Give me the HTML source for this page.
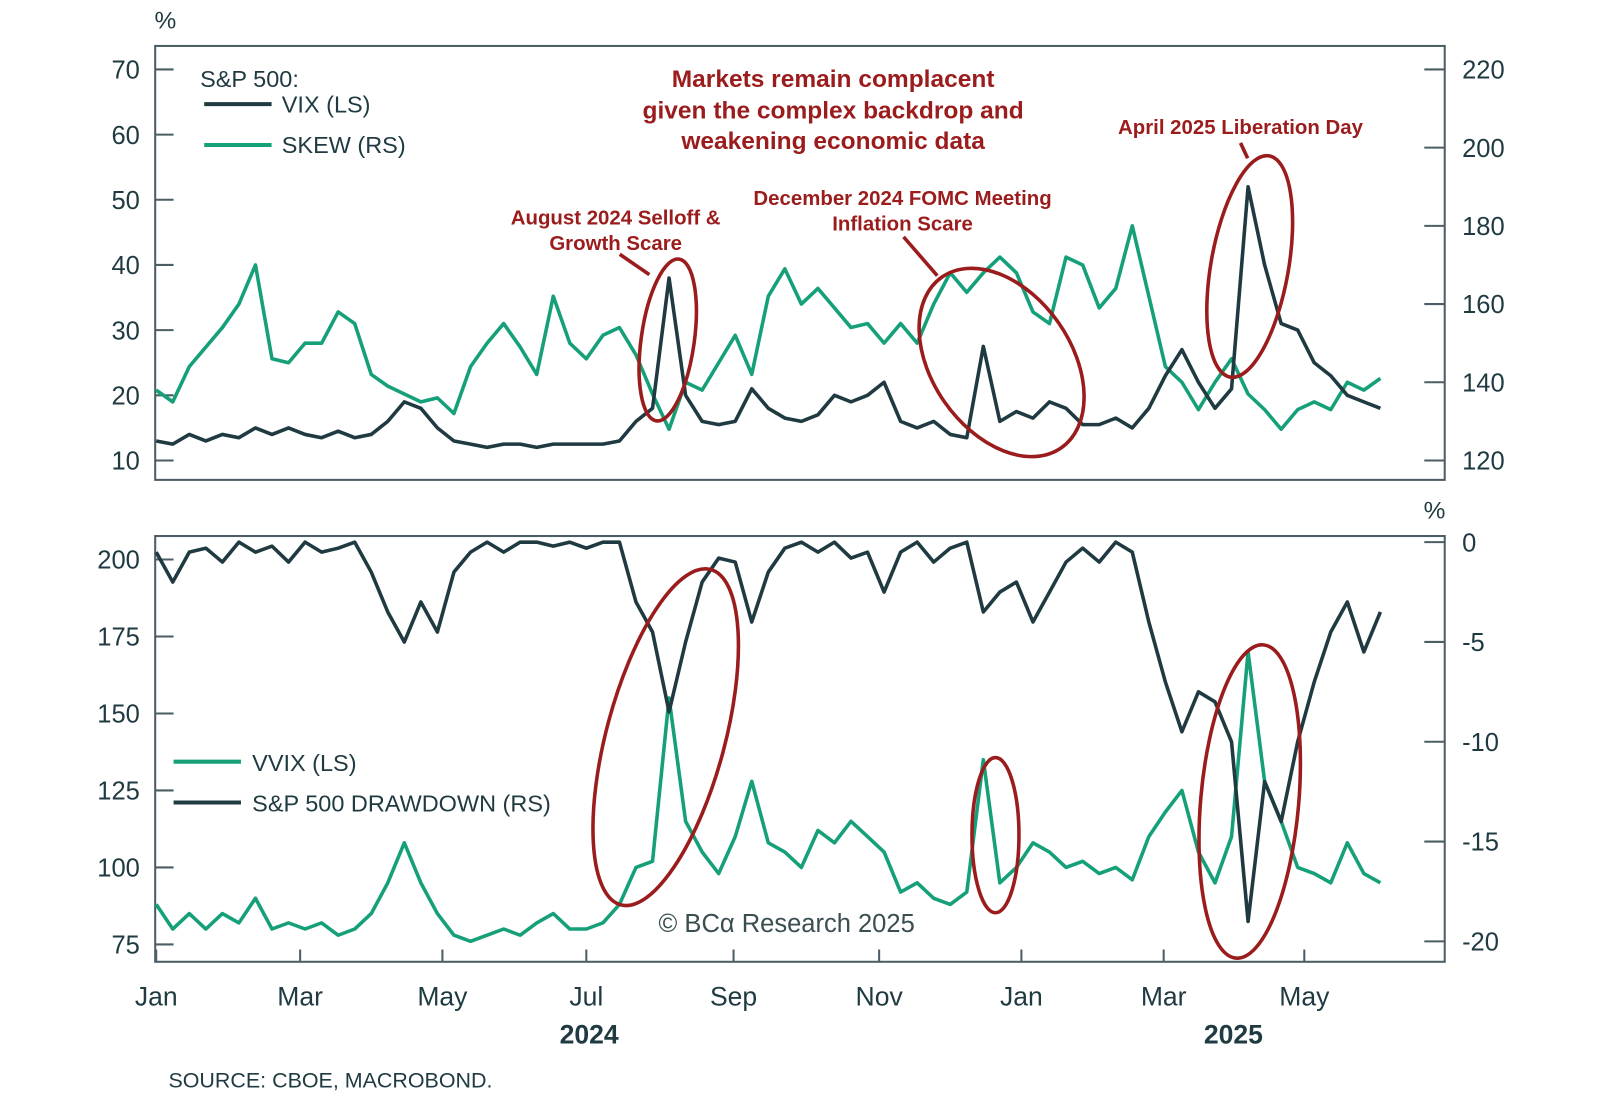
<!DOCTYPE html>
<html><head><meta charset="utf-8"><style>
body{margin:0;background:#fff;}
svg text{font-family:"Liberation Sans",sans-serif;}
</style></head><body>
<svg id="chart" width="1600" height="1106" viewBox="0 0 1600 1106" xmlns="http://www.w3.org/2000/svg">
<rect width="1600" height="1106" fill="#fff"/>
<g transform="scale(1.021)">
<g id="topPanel"></g>
<g id="botPanel"></g>
</g>
</svg>
<script>
const vix=[13,12.5,14,13,14,13.5,15,14,15,14,13.5,14.5,13.5,14,16,19,18,15,13,12.5,12,12.5,12.5,12,12.5,12.5,12.5,12.5,13,16,18,38,20,16,15.5,16,21,18,16.5,16,17,20,19,20,22,16,15,16,14,13.5,27.5,16,17.5,16.5,19,18,15.5,15.5,16.5,15,18,23,27,22,18,21,52,40,31,30,25,23,20,19,18];
const skew=[138,135,144,149,154,160,170,146,145,150,150,158,155,142,139,137,135,136,132,144,150,155,149,142,162,150,146,152,154,147,137,128,140,138,145,152,142,162,169,160,164,159,154,155,150,155,150,160,168,163,168,172,168,158,155,172,170,159,164,180,162,144,140,133,140,146,137,133,128,133,135,133,140,138,141];
const vvix=[88,80,85,80,85,82,90,80,82,80,82,78,80,85,95,108,95,85,78,76,78,80,78,82,85,80,80,82,88,100,102,155,115,105,98,110,128,108,105,100,112,108,115,110,105,92,95,90,88,92,135,95,100,108,105,100,102,98,100,96,110,118,125,105,95,110,170,128,115,100,98,95,108,98,95];
const drawdown=[-0.5,-2,-0.5,-0.3,-1,0,-0.5,-0.2,-1,0,-0.5,-0.3,0,-1.5,-3.5,-5,-3,-4.5,-1.5,-0.5,0,-0.5,0,0,-0.2,0,-0.3,0,0,-3,-4.5,-8.5,-5,-2,-0.8,-1,-4,-1.5,-0.3,0,-0.5,0,-0.8,-0.5,-2.5,-0.5,0,-1,-0.3,0,-3.5,-2.5,-2,-4,-2.5,-1,-0.3,-1,0,-0.5,-4,-7,-9.5,-7.5,-8,-10,-19,-12,-14,-10,-7,-4.5,-3,-5.5,-3.5];
const vixTicks=[10,20,30,40,50,60,70];
const skewTicks=[120,140,160,180,200,220];
const vvixTicks=[75,100,125,150,175,200];
const ddTicks=[0,-5,-10,-15,-20];
const monthLabels=["Jan","Mar","May","Jul","Sep","Nov","Jan","Mar","May"];
const monthWeeks=[0,8.7,17.3,26,34.9,43.7,52.3,60.9,69.4];

const NS="http://www.w3.org/2000/svg";
const DARK="#1f3a40",GREEN="#16a07a",RED="#9b1c1c";
function mk(tag,attrs,parent,txt){const e=document.createElementNS(NS,tag);for(const k in attrs)e.setAttribute(k,attrs[k]);if(txt!==undefined)e.textContent=txt;parent.appendChild(e);return e;}
const X0=153,X1=1352;
const xw=i=>X0+i*(X1-X0)/(vix.length-1);
const yVix=v=>68+(70-v)*(451-68)/60;
const ySkew=v=>68+(220-v)*(451-68)/100;
const yVvix=v=>548+(200-v)*(925-548)/125;
const yDd=v=>531+(0-v)*(922-531)/20;
const gTop=document.getElementById('topPanel'),gBot=document.getElementById('botPanel');

function frame(g,y0,y1,name){
 const r=mk('rect',{x:152,y:y0,width:1263,height:y1-y0,fill:'none',stroke:'#4a5e63','stroke-width':2},g);
 
 
}
frame(gTop,45,470,'top-frame');frame(gBot,525,942,'bottom-frame');

function ticks(g,arr,yf,side,name){
 arr.forEach(v=>{const y=yf(v);
  const x1=side==='l'?152:1395,x2=side==='l'?170:1415;
  const t=mk('line',{x1:x1,x2:x2,y1:y,y2:y,stroke:'#4a5e63','stroke-width':2},g);
  
  
  const lb=mk('text',{x:side==='l'?137:1432,y:y+9,'font-size':25,fill:DARK,'text-anchor':side==='l'?'end':'start'},g,String(v));
  
  
 });
}
ticks(gTop,vixTicks,yVix,'l','vix-axis');ticks(gTop,skewTicks,ySkew,'r','skew-axis');
ticks(gBot,vvixTicks,yVvix,'l','vvix-axis');ticks(gBot,ddTicks,yDd,'r','drawdown-axis');

function line(g,arr,xf,yf,color,name){
 const d=arr.map((v,i)=>(i?'L':'M')+xf(i).toFixed(1)+','+yf(v).toFixed(1)).join('');
 const p=mk('path',{d:d,fill:'none',stroke:color,'stroke-width':3.5,'stroke-linejoin':'round'},g);
 
 
}
line(gTop,skew,xw,ySkew,GREEN,'skew-line');
line(gTop,vix,xw,yVix,DARK,'vix-line');
line(gBot,vvix,xw,yVvix,GREEN,'vvix-line');
line(gBot,drawdown,xw,yDd,DARK,'drawdown-line');

monthLabels.forEach((m,i)=>{const x=xw(monthWeeks[i]);
 const t=mk('line',{x1:x,x2:x,y1:930,y2:942,stroke:'#4a5e63','stroke-width':2},gBot);
 
 
 const l=mk('text',{x:x,y:985,'font-size':26,fill:DARK,'text-anchor':'middle'},gBot,m);
 
 
});
function txt(g,x,y,s,size,color,anchor,name,weight){const t=mk('text',{x:x,y:y,'font-size':size,fill:color,'text-anchor':anchor||'start','font-weight':weight||'normal'},g,s);
 
 
 return t;}
txt(gBot,577,1022,'2024',26,DARK,'middle','year-label-2024','bold');
txt(gBot,1208,1022,'2025',26,DARK,'middle','year-label-2025','bold');
txt(gTop,162,28,'%',24,DARK,'middle','left-unit');
txt(gBot,1405,508,'%',24,DARK,'middle','right-unit');
txt(gBot,165,1065,'SOURCE: CBOE, MACROBOND.',21,DARK,'start','source-note');
txt(gBot,645,913,'© BCα Research 2025',25,'#3a4e52','start','copyright');
txt(gTop,196,85,'S&P 500:',23,DARK,'start','legend-title');
let l1=mk('line',{x1:200,x2:266,y1:102,y2:102,stroke:DARK,'stroke-width':4},gTop);


txt(gTop,276,110,'VIX (LS)',23,DARK,'start','legend-vix');
let l2=mk('line',{x1:200,x2:266,y1:142,y2:142,stroke:GREEN,'stroke-width':4},gTop);


txt(gTop,276,150,'SKEW (RS)',23,DARK,'start','legend-skew');
let l3=mk('line',{x1:170,x2:236,y1:746,y2:746,stroke:GREEN,'stroke-width':4},gBot);


txt(gBot,247,755,'VVIX (LS)',23,DARK,'start','legend-vvix');
let l4=mk('line',{x1:170,x2:236,y1:786,y2:786,stroke:DARK,'stroke-width':4},gBot);


txt(gBot,247,795,'S&P 500 DRAWDOWN (RS)',23,DARK,'start','legend-drawdown');
txt(gTop,816,85,'Markets remain complacent',24,RED,'middle','headline-1','bold');
txt(gTop,816,116,'given the complex backdrop and',24,RED,'middle','headline-2','bold');
txt(gTop,816,146,'weakening economic data',24,RED,'middle','headline-3','bold');
txt(gTop,603,220,'August 2024 Selloff &',20,RED,'middle','annot-aug-1','bold');
txt(gTop,603,245,'Growth Scare',20,RED,'middle','annot-aug-2','bold');
txt(gTop,884,201,'December 2024 FOMC Meeting',20,RED,'middle','annot-dec-1','bold');
txt(gTop,884,226,'Inflation Scare',20,RED,'middle','annot-dec-2','bold');
txt(gTop,1215,131,'April 2025 Liberation Day',20,RED,'middle','annot-apr','bold');
function ell(g,cx,cy,rx,ry,rot,name){const e=mk('ellipse',{cx:cx,cy:cy,rx:rx,ry:ry,fill:'none',stroke:RED,'stroke-width':3.5,transform:`rotate(${rot} ${cx} ${cy})`},g);
 
 }
function seg(g,x1,y1,x2,y2,name){const e=mk('line',{x1:x1,y1:y1,x2:x2,y2:y2,stroke:RED,'stroke-width':3.5},g);
 
 }
ell(gTop,654,333,26,80,8,'ellipse-aug-top');seg(gTop,607,249,636,269,'pointer-aug');
ell(gTop,981,355,68,102,-35,'ellipse-dec-top');seg(gTop,885,232,918,270,'pointer-dec');
ell(gTop,1224,261,38,110,10,'ellipse-apr-top');seg(gTop,1215,140,1222,155,'pointer-apr');
ell(gBot,652,722,58,170,15,'ellipse-aug-bottom');
ell(gBot,975,818,23,76,0,'ellipse-dec-bottom');
ell(gBot,1224,785,48,154,5,'ellipse-apr-bottom');
</script>
</body></html>
